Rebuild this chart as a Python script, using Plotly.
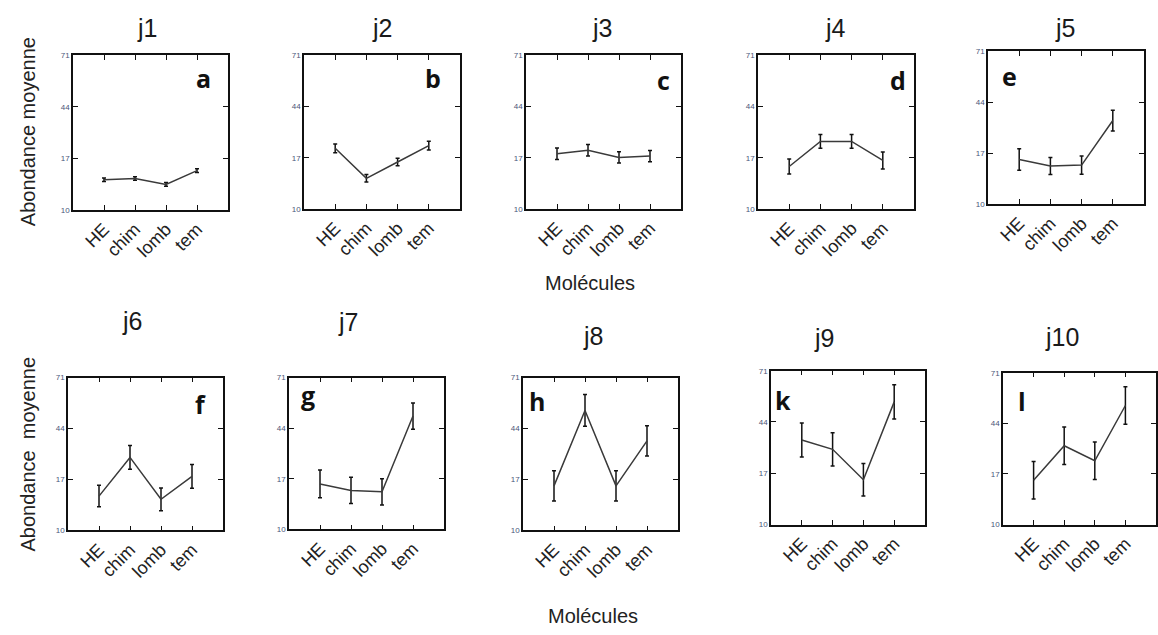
import plotly.graph_objects as go

W, H = 1158, 635

categories = ["HE", "chim", "lomb", "tem"]
titles = ["j1", "j2", "j3", "j4", "j5", "j6", "j7", "j8", "j9", "j10"]
letters = ["a", "b", "c", "d", "e", "f", "g", "h", "k", "l"]
ytick_vals = [-10, 17, 44, 71]
ytick_text = ["10", "17", "44", "71"]

means = [
    [5.8, 6.5, 3.4, 10.6],
    [22.0, 6.2, 14.8, 23.4],
    [19.1, 21.0, 17.2, 17.9],
    [12.4, 25.6, 25.6, 15.6],
    [13.7, 10.2, 10.7, 34.3],
    [8.2, 28.7, 6.5, 18.7],
    [14.3, 10.8, 10.1, 50.5],
    [13.6, 53.6, 13.6, 37.5],
    [34.5, 29.6, 13.6, 54.6],
    [13.6, 32.0, 24.0, 53.5],
]
errors = [
    [0.9, 0.9, 1.0, 1.0],
    [2.3, 2.0, 2.0, 2.3],
    [3.0, 3.0, 3.0, 3.0],
    [4.0, 3.6, 3.6, 4.5],
    [5.7, 4.5, 4.8, 5.5],
    [5.7, 6.3, 6.0, 6.3],
    [7.4, 7.0, 7.0, 7.0],
    [8.0, 8.4, 8.0, 8.0],
    [9.0, 8.8, 8.6, 9.0],
    [10.0, 10.0, 10.0, 10.0],
]

# layout in pixels: (left, right, top, bottom) of each box
boxes = [
    (73, 228, 52, 209), (304, 460, 52, 208), (526, 681, 52, 208),
    (758, 914, 52, 208), (988, 1144, 48, 203),
    (68, 223, 379, 534), (289, 444, 379, 533), (523, 678, 379, 534),
    (771, 925, 372, 528), (1003, 1156, 374, 528),
]
title_pos = [(147, 24), (382, 24), (602, 24), (835, 24), (1065, 24),
             (132, 322), (348, 323), (593, 337), (824, 339), (1062, 338)]
letter_pos = [(204, 75), (433, 75), (663, 77), (898, 77), (1009, 73),
              (200, 406), (308, 397), (537, 403), (783, 402), (1022, 403)]

fig = go.Figure()
layout = dict(
    width=W, height=H, margin=dict(l=0, r=0, t=0, b=0),
    paper_bgcolor="white", plot_bgcolor="white", showlegend=False,
    font=dict(family="Liberation Sans, Arial, sans-serif", color="#222"),
)
annotations = []

for i in range(10):
    k = "" if i == 0 else str(i + 1)
    l, r, t, b = boxes[i]
    fig.add_trace(go.Scatter(
        x=categories, y=means[i], mode="lines",
        line=dict(color="#3a3a3a", width=1.5),
        error_y=dict(type="data", array=errors[i], color="#111", thickness=1.5, width=2),
        xaxis="x" + k, yaxis="y" + k,
    ))
    layout["xaxis" + k] = dict(
        domain=[l / W, r / W], anchor="y" + k, type="category",
        categoryorder="array", categoryarray=categories,
        range=[-1, 4], showgrid=False, zeroline=False,
        showline=True, linecolor="#111", linewidth=1.5, mirror="ticks",
        ticks="inside", ticklen=5, tickcolor="#111", tickangle=-45,
        tickfont=dict(size=18, color="#222"), fixedrange=True,
    )
    layout["yaxis" + k] = dict(
        domain=[1 - b / H, 1 - t / H], anchor="x" + k,
        range=[-10, 71], tickvals=ytick_vals, ticktext=ytick_text,
        showgrid=False, zeroline=False,
        showline=True, linecolor="#111", linewidth=1.5, mirror="ticks",
        ticks="inside", ticklen=5, tickcolor="#111",
        tickfont=dict(size=8, color="#4a5578"), fixedrange=True,
    )
    tx, ty = title_pos[i]
    annotations.append(dict(text=titles[i], x=tx / W, y=1 - ty / H, xref="paper", yref="paper",
                            showarrow=False, xanchor="center", yanchor="middle",
                            font=dict(size=25, color="#1a1a1a")))
    lx, ly = letter_pos[i]
    annotations.append(dict(text="<b>" + letters[i] + "</b>", x=lx / W, y=1 - ly / H,
                            xref="paper", yref="paper", showarrow=False,
                            xanchor="center", yanchor="middle",
                            font=dict(size=25, color="#111", family="Open Sans, sans-serif")))

# axis titles
annotations.append(dict(text="Abondance moyenne", x=28 / W, y=1 - 130 / H, xref="paper", yref="paper",
                        showarrow=False, textangle=-90, xanchor="center", yanchor="middle",
                        font=dict(size=20, color="#222")))
annotations.append(dict(text="Abondance  moyenne", x=28 / W, y=1 - 457 / H, xref="paper", yref="paper",
                        showarrow=False, textangle=-90, xanchor="center", yanchor="middle",
                        font=dict(size=20, color="#222")))
annotations.append(dict(text="Molécules", x=590 / W, y=1 - 283 / H, xref="paper", yref="paper",
                        showarrow=False, xanchor="center", yanchor="middle",
                        font=dict(size=20, color="#222")))
annotations.append(dict(text="Molécules", x=593 / W, y=1 - 621 / H, xref="paper", yref="paper",
                        showarrow=False, xanchor="center", yanchor="middle",
                        font=dict(size=20, color="#222")))

layout["annotations"] = annotations
fig.update_layout(**layout)
fig.write_html("out.html")
